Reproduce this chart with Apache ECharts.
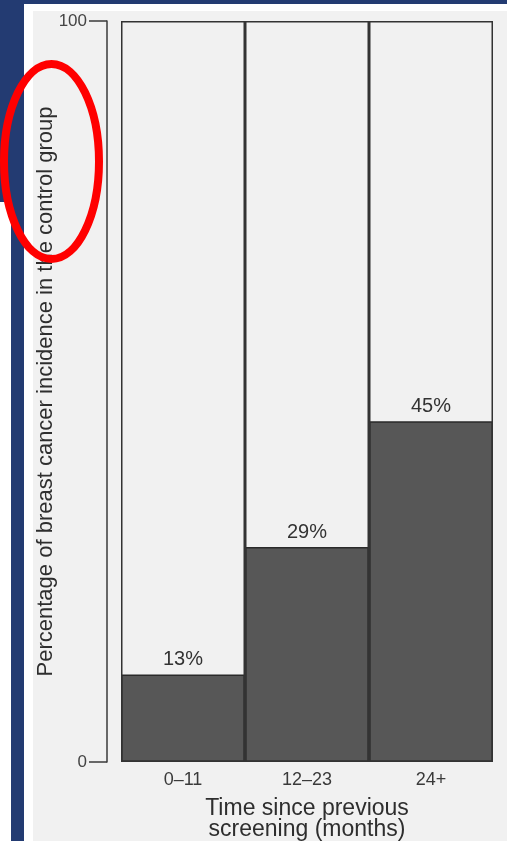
<!DOCTYPE html>
<html>
<head>
<meta charset="utf-8">
<script src="https://cdn.jsdelivr.net/npm/echarts@6/dist/echarts.min.js"></script>
<style>
html,body{margin:0;padding:0;background:#ffffff;}
#chart{width:507px;height:841px;}
</style>
</head>
<body>
<div id="chart"></div>
<script>
// Data
var categories = ['0–11', '12–23', '24+'];
var incidence = [11.8, 29, 46];          // bar heights as drawn (% of control group incidence)
var valueLabels = ['13%', '29%', '45%']; // printed labels
var boxTotals = [100, 100, 100];         // full-height outline boxes
var yTicks = [0, 100];

var FONT = '"Liberation Sans", Arial, Helvetica, sans-serif';
var INK = '#2e2e2e';

var chart = echarts.init(document.getElementById('chart'), null, {renderer: 'canvas'});

var option = {
  backgroundColor: '#f1f1f1',
  animation: false,
  grid: {left: 121, right: 14, top: 21, bottom: 79, containLabel: false, outerBoundsMode: 'none'},
  xAxis: {
    type: 'category',
    data: categories,
    axisLine: {show: false},
    axisTick: {show: false},
    axisLabel: {color: '#3a3a3a', fontFamily: FONT, fontSize: 18, margin: 9},
    name: 'Time since previous\nscreening (months)',
    nameLocation: 'middle',
    nameGap: 36,
    nameMoveOverlap: false,
    nameTextStyle: {color: INK, fontFamily: FONT, fontSize: 23, lineHeight: 21}
  },
  yAxis: {
    type: 'value',
    min: yTicks[0],
    max: yTicks[1],
    interval: 100,
    offset: 14,
    splitLine: {show: false},
    axisLine: {show: true, lineStyle: {color: '#3a3a3a', width: 1.5}},
    axisTick: {show: true, length: 18, lineStyle: {color: '#3a3a3a', width: 1.5}},
    axisLabel: {color: '#444', fontFamily: FONT, fontSize: 17, margin: 20},
    name: 'Percentage of breast cancer incidence in the control group',
    nameLocation: 'middle',
    nameGap: 50,
    nameMoveOverlap: false,
    nameTextStyle: {color: INK, fontFamily: FONT, fontSize: 22}
  },
  series: [
    {
      name: 'box',
      type: 'bar',
      data: boxTotals,
      barWidth: '100%',
      barGap: '-100%',
      silent: true,
      z: 3,
      itemStyle: {color: 'rgba(0,0,0,0)', borderColor: '#333', borderWidth: 1.5}
    },
    {
      name: 'incidence',
      type: 'bar',
      data: incidence,
      barWidth: '100%',
      barGap: '-100%',
      z: 2,
      itemStyle: {color: '#575757', borderColor: '#2a2a2a', borderWidth: 1.5},
      label: {
        show: true,
        position: 'top',
        distance: 5,
        color: '#333',
        fontFamily: FONT,
        fontSize: 20,
        formatter: function (p) { return valueLabels[p.dataIndex]; }
      }
    }
  ],
  graphic: {
    elements: [
      {type: 'rect', z: -10, shape: {x: 0, y: 0, width: 507, height: 4}, style: {fill: '#233b72'}},
      {type: 'rect', z: -10, shape: {x: 0, y: 0, width: 24, height: 841}, style: {fill: '#233b72'}},
      {type: 'rect', z: -9, shape: {x: 0, y: 202, width: 11, height: 639}, style: {fill: '#ffffff'}},
      {type: 'rect', z: -10, shape: {x: 24, y: 4, width: 483, height: 7}, style: {fill: '#ffffff'}},
      {type: 'rect', z: -10, shape: {x: 24, y: 4, width: 9, height: 837}, style: {fill: '#ffffff'}},
      {type: 'ellipse', z: 100, shape: {cx: 51.5, cy: 161.5, rx: 47.5, ry: 97.5},
        style: {fill: 'none', stroke: '#ff0000', lineWidth: 8}}
    ]
  }
};

chart.setOption(option);
</script>
</body>
</html>
